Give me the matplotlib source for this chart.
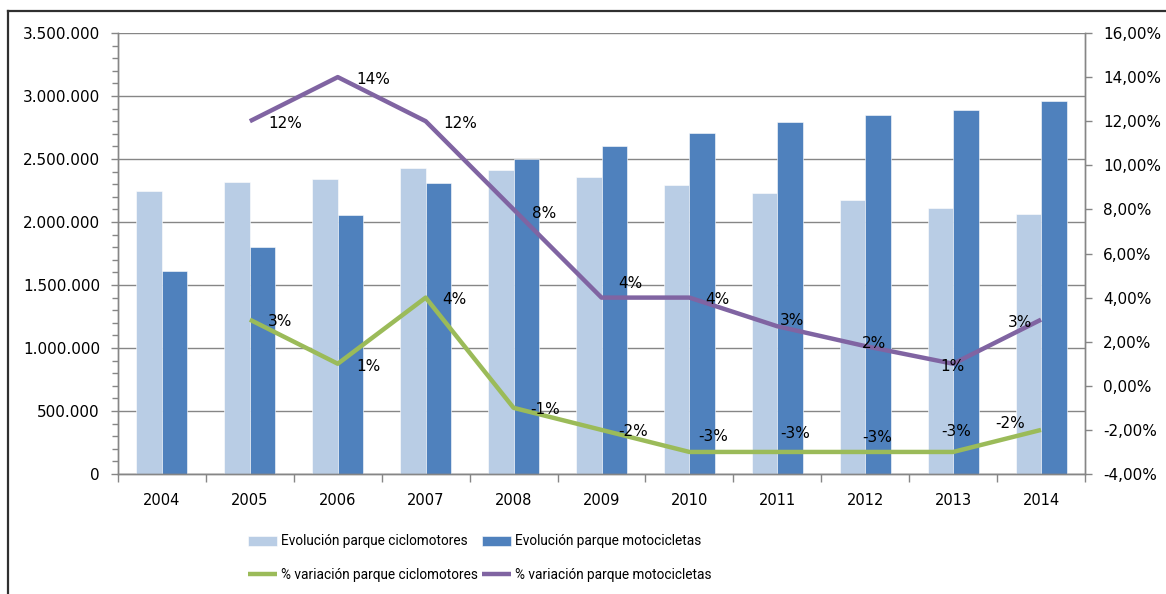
import numpy as np
import matplotlib
matplotlib.use("Agg")
import matplotlib.pyplot as plt
from matplotlib.lines import Line2D
from matplotlib.ticker import FuncFormatter, MultipleLocator

# datos
years = ["2004", "2005", "2006", "2007", "2008", "2009", "2010", "2011", "2012", "2013", "2014"]
parque_ciclo = [2244000, 2315000, 2341000, 2429000, 2413000, 2355000, 2291000, 2228000, 2172000, 2109000, 2061000]
parque_moto = [1609000, 1799000, 2053000, 2310000, 2498000, 2604000, 2704000, 2791000, 2847000, 2886000, 2963000]
# variaciones desde 2005 (%)
var_ciclo = [3.0, 1.0, 4.0, -1.0, -2.0, -3.0, -3.0, -3.0, -3.0, -2.0]
var_moto = [12.0, 14.0, 12.0, 8.0, 4.0, 4.0, 2.7, 1.8, 1.0, 3.0]
lab_ciclo = ["3%", "1%", "4%", "-1%", "-2%", "-3%", "-3%", "-3%", "-3%", "-2%"]
lab_moto = ["12%", "14%", "12%", "8%", "4%", "4%", "3%", "2%", "1%", "3%"]

# desplazamiento de cada etiqueta (pixeles, centro del texto)
off_ciclo = [(30, -2), (31, -3), (29, -2), (32, -2), (32, -2), (24, 15), (18, 18), (12, 14), (3, 20), (-31, 6)]
off_moto = [(35, -2), (35, -2), (35, -2), (31, -4), (29, 14), (28, -2), (15, 6), (9, 3), (-1, -3), (-21, -3)]

c_light = "#B9CDE5"
c_dark = "#4F81BD"
c_green = "#9BBB59"
c_purple = "#8064A2"
c_grid = "#868686"

plt.rcParams['font.family'] = ['DejaVu Sans']

fig = plt.figure(figsize=(11.66, 5.94), dpi=100)
ax = fig.add_axes([118/1166, 1-474/594, (1085-118)/1166, (474-33)/594])
ax2 = ax.twinx()

x = np.arange(len(years))
w = 0.29
ax.bar(x - w/2, parque_ciclo, w, color=c_light, edgecolor="white", linewidth=0.4, zorder=2,
       label="Evolución parque ciclomotores")
ax.bar(x + w/2, parque_moto, w, color=c_dark, edgecolor="white", linewidth=0.4, zorder=2,
       label="Evolución parque motocicletas")

ax.set_xlim(-0.5, len(years) - 0.5)
ax.set_ylim(0, 3500000)
ax.yaxis.set_major_locator(MultipleLocator(500000))
ax.yaxis.set_minor_locator(MultipleLocator(100000))
ax.yaxis.set_major_formatter(FuncFormatter(lambda v, p: "{:,.0f}".format(v).replace(",", ".")))
ax.grid(axis="y", color=c_grid, linewidth=1.0)
ax.set_axisbelow(True)

ax.set_xticks(x)
ax.set_xticklabels(years)
ax.set_xticks(np.arange(-0.5, len(years)), minor=True)
ax.tick_params(axis="x", which="major", length=0, pad=14, labelsize=10.5)
ax.tick_params(axis="x", which="minor", length=6, color=c_grid, width=1)
ax.tick_params(axis="y", which="major", length=5, color=c_grid, width=1, pad=8, labelsize=11)
ax.tick_params(axis="y", which="minor", length=4, color=c_grid, width=1)

xl = x[1:]
ax2.plot(xl, var_ciclo, color=c_green, linewidth=3.2, solid_capstyle="butt", zorder=3,
         label="% variación parque ciclomotores")
ax2.plot(xl, var_moto, color=c_purple, linewidth=3.2, solid_capstyle="butt", zorder=3,
         label="% variación parque motocicletas")
for xi, v, t, o in zip(xl, var_ciclo, lab_ciclo, off_ciclo):
    ax2.annotate(t, (xi, v), xytext=o, textcoords="offset pixels", ha="center", va="center", fontsize=11)
for xi, v, t, o in zip(xl, var_moto, lab_moto, off_moto):
    ax2.annotate(t, (xi, v), xytext=o, textcoords="offset pixels", ha="center", va="center", fontsize=11)

ax2.set_ylim(-4, 16)
ax2.yaxis.set_major_locator(MultipleLocator(2))
ax2.yaxis.set_major_formatter(FuncFormatter(lambda v, p: "{:.2f}%".format(v).replace(".", ",")))
ax2.tick_params(axis="y", length=5, color=c_grid, width=1, pad=8, labelsize=11)

for a in (ax, ax2):
    a.spines["top"].set_visible(False)
    for s in ("left", "right", "bottom"):
        a.spines[s].set_color(c_grid)
        a.spines[s].set_linewidth(1.0)

# leyenda: fila 1 barras, fila 2 lineas
h1, l1 = ax.get_legend_handles_labels()
h2, l2 = ax2.get_legend_handles_labels()
handles = [h1[0], h2[0], h1[1], h2[1]]
labels = [l1[0], l2[0], l1[1], l2[1]]
fig.legend(handles, labels, ncol=2, loc="upper left", bbox_to_anchor=(243/1166, 1-529/594),
           frameon=False, prop={"family": "Roboto", "size": 9.8}, handlelength=2.1,
           handleheight=0.75, handletextpad=0.3, columnspacing=0.3, labelspacing=1.4,
           borderaxespad=0)

# marco exterior
fig.add_artist(Line2D([8/1166, 8/1166], [0, 1-11/594], color="#303030", linewidth=1.6))
fig.add_artist(Line2D([8/1166, 1], [1-11/594, 1-11/594], color="#303030", linewidth=1.6))

fig.savefig("out.png", dpi=100)
